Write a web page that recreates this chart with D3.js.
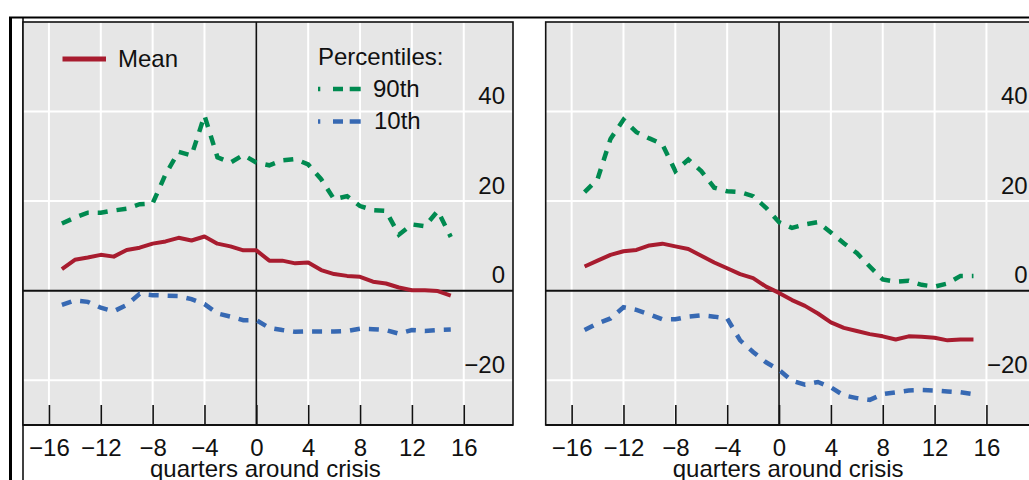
<!DOCTYPE html>
<html>
<head>
<meta charset="utf-8">
<script src="https://cdn.jsdelivr.net/npm/d3@7"></script>
<style>
  body { margin: 0; background: #fff; }
  svg { display: block; }
  text { font-family: "Liberation Sans", Arial, sans-serif; fill: #111; }
</style>
</head>
<body>
<svg id="chart" width="1029" height="480"></svg>
<script>
// Quarters relative to the crisis (x categories)
const quarters = [-15,-14,-13,-12,-11,-10,-9,-8,-7,-6,-5,-4,-3,-2,-1,0,
                  1,2,3,4,5,6,7,8,9,10,11,12,13,14,15];

// Left panel series
const leftMean = [4.8,6.9,7.4,8.0,7.6,9.1,9.6,10.5,11.0,11.8,11.2,12.1,10.5,9.9,9.0,9.0,
                  6.7,6.7,6.1,6.3,4.6,3.7,3.3,3.1,2.0,1.6,0.7,0.1,0.1,-0.1,-1.1];
const leftP90  = [15.0,16.3,17.4,17.4,17.9,18.3,19.3,19.5,26.0,31.0,30.2,39.1,29.8,28.6,30.3,28.6,
                  28.0,29.1,29.4,28.2,24.9,20.4,21.1,18.9,18.0,17.8,12.5,14.8,14.4,17.8,12.0];
const leftP10  = [-3.2,-2.2,-2.5,-3.8,-4.6,-3.2,-0.7,-1.0,-1.1,-1.2,-1.9,-3.0,-5.1,-5.8,-6.6,-6.6,
                  -8.3,-8.8,-9.2,-9.1,-9.1,-9.1,-9.0,-8.5,-8.6,-8.8,-9.6,-8.8,-9.0,-8.8,-8.7];

// Right panel series
const rightMean = [5.4,6.7,8.0,8.8,9.1,10.1,10.5,9.9,9.3,7.8,6.3,5.0,3.7,2.8,0.9,-0.5,
                   -2.1,-3.4,-5.1,-7.1,-8.3,-9.0,-9.7,-10.2,-10.9,-10.2,-10.3,-10.5,-11.1,-10.9,-10.9];
const rightP90  = [22.0,24.9,33.9,38.2,35.4,34.0,32.7,26.7,29.3,26.7,23.0,22.2,22.0,21.1,18.5,15.3,
                   14.0,14.8,15.3,13.0,10.6,8.4,5.4,2.5,2.0,2.2,1.3,0.9,1.6,3.3,3.3];
const rightP10  = [-8.8,-7.3,-6.2,-3.7,-4.3,-5.3,-6.4,-6.4,-5.8,-5.5,-5.8,-6.2,-11.1,-13.7,-16.0,-17.7,
                   -20.1,-21.0,-20.4,-21.6,-23.4,-24.0,-24.4,-23.1,-22.7,-22.3,-22.2,-22.3,-22.5,-22.7,-23.1];

// Axis ticks
const xTicks = [-16,-12,-8,-4,0,4,8,12,16];
const yTicks = [-20,0,20,40];
const xTitle = "quarters around crisis";

// Legend entries
const legendMean = "Mean";
const legendHeader = "Percentiles:";
const legendP90 = "90th";
const legendP10 = "10th";

const COLORS = { mean: "#a81c2f", p90: "#008a50", p10: "#3769b3" };

const svg = d3.select("#chart");

// Outer frame
svg.append("line").attr("x1", 9).attr("x2", 1029).attr("y1", 17.5).attr("y2", 17.5)
  .attr("stroke", "#000").attr("stroke-width", 2);
svg.append("line").attr("x1", 10.5).attr("x2", 10.5).attr("y1", 17).attr("y2", 480)
  .attr("stroke", "#000").attr("stroke-width", 3);
svg.append("line").attr("x1", 23).attr("x2", 23).attr("y1", 17).attr("y2", 480)
  .attr("stroke", "#000").attr("stroke-width", 1.5);

const y = d3.scaleLinear().domain([-30, 60]).range([425, 22]);

function drawPanel(left, series, withLegend) {
  const width = 490;
  const x = d3.scaleLinear().domain([-18, 19.8]).range([left, left + width]);
  const g = svg.append("g");

  const clipId = "clip" + Math.round(left);
  svg.append("clipPath").attr("id", clipId)
    .append("rect").attr("x", left).attr("y", y(60)).attr("width", width).attr("height", y(-30) - y(60));

  const plot = g.append("g").attr("clip-path", `url(#${clipId})`);
  plot.append("rect").attr("x", left).attr("y", y(60)).attr("width", width)
    .attr("height", y(-30) - y(60)).attr("fill", "#e6e6e6");

  // white grid
  plot.selectAll(".vgrid").data(xTicks.filter(d => d !== 0)).join("line")
    .attr("x1", d => x(d)).attr("x2", d => x(d)).attr("y1", y(60)).attr("y2", y(-30))
    .attr("stroke", "#fff").attr("stroke-width", 2);
  plot.selectAll(".hgrid").data(yTicks.filter(d => d !== 0)).join("line")
    .attr("x1", left).attr("x2", left + width).attr("y1", d => y(d)).attr("y2", d => y(d))
    .attr("stroke", "#fff").attr("stroke-width", 2);

  // zero lines
  plot.append("line").attr("x1", x(0)).attr("x2", x(0)).attr("y1", y(60)).attr("y2", y(-30))
    .attr("stroke", "#111").attr("stroke-width", 1.6);
  plot.append("line").attr("x1", left).attr("x2", left + width).attr("y1", y(0)).attr("y2", y(0))
    .attr("stroke", "#111").attr("stroke-width", 2);

  // x ticks (inside, upward) with labels below
  const xAxis = d3.axisBottom(x).tickValues(xTicks).tickSizeInner(-20).tickSizeOuter(0).tickPadding(14);
  const ax = g.append("g").attr("transform", `translate(0,${y(-30)})`).call(xAxis);
  ax.select(".domain").remove();
  ax.selectAll(".tick line").attr("stroke", "#111").attr("stroke-width", 1.6);
  ax.selectAll(".tick text").attr("font-size", 24).attr("fill", "#111")
    .attr("font-family", "Liberation Sans, Arial, sans-serif");

  // y labels, right aligned above each grid line
  plot.selectAll(".ylab").data(yTicks).join("text")
    .attr("x", left + width - 8).attr("y", d => y(d) - 7.5)
    .attr("text-anchor", "end").attr("font-size", 24)
    .text(d => d3.format("d")(d));

  // data lines
  const line = d3.line().x((d, i) => x(quarters[i])).y(d => y(d));
  plot.append("path").datum(series.p90).attr("d", line).attr("fill", "none")
    .attr("stroke", COLORS.p90).attr("stroke-width", 4.5).attr("stroke-dasharray", "10,9");
  plot.append("path").datum(series.p10).attr("d", line).attr("fill", "none")
    .attr("stroke", COLORS.p10).attr("stroke-width", 4.5).attr("stroke-dasharray", "10,9");
  plot.append("path").datum(series.mean).attr("d", line).attr("fill", "none")
    .attr("stroke", COLORS.mean).attr("stroke-width", 4).attr("stroke-linejoin", "round");

  // plot border
  g.append("rect").attr("x", left).attr("y", y(60)).attr("width", width)
    .attr("height", y(-30) - y(60)).attr("fill", "none").attr("stroke", "#111").attr("stroke-width", 1.6);
  g.append("line").attr("x1", left).attr("x2", left + width).attr("y1", y(-30)).attr("y2", y(-30))
    .attr("stroke", "#111").attr("stroke-width", 2.2);

  // x-axis title
  g.append("text").attr("x", x(0.7)).attr("y", 477).attr("text-anchor", "middle")
    .attr("font-size", 24).text(xTitle);

  if (withLegend) {
    const lg = g.append("g");
    lg.append("line").attr("x1", 62.5).attr("x2", 106).attr("y1", 59).attr("y2", 59)
      .attr("stroke", COLORS.mean).attr("stroke-width", 5);
    lg.append("text").attr("x", 118).attr("y", 66.5).attr("font-size", 24).text(legendMean);
    lg.append("text").attr("x", 318).attr("y", 65).attr("font-size", 24).text(legendHeader);
    lg.append("line").attr("x1", 318).attr("x2", 361).attr("y1", 89).attr("y2", 89)
      .attr("stroke", COLORS.p90).attr("stroke-width", 4.5).attr("stroke-dasharray", "2.3,12.7,10,6.7,11,50");
    lg.append("text").attr("x", 373).attr("y", 96.5).attr("font-size", 24).text(legendP90);
    lg.append("line").attr("x1", 318).attr("x2", 361).attr("y1", 121.5).attr("y2", 121.5)
      .attr("stroke", COLORS.p10).attr("stroke-width", 4.5).attr("stroke-dasharray", "2.3,12.7,10,6.7,11,50");
    lg.append("text").attr("x", 374).attr("y", 129).attr("font-size", 24).text(legendP10);
  }
}

drawPanel(23, { mean: leftMean, p90: leftP90, p10: leftP10 }, true);
drawPanel(545.7, { mean: rightMean, p90: rightP90, p10: rightP10 }, false);
</script>
</body>
</html>
